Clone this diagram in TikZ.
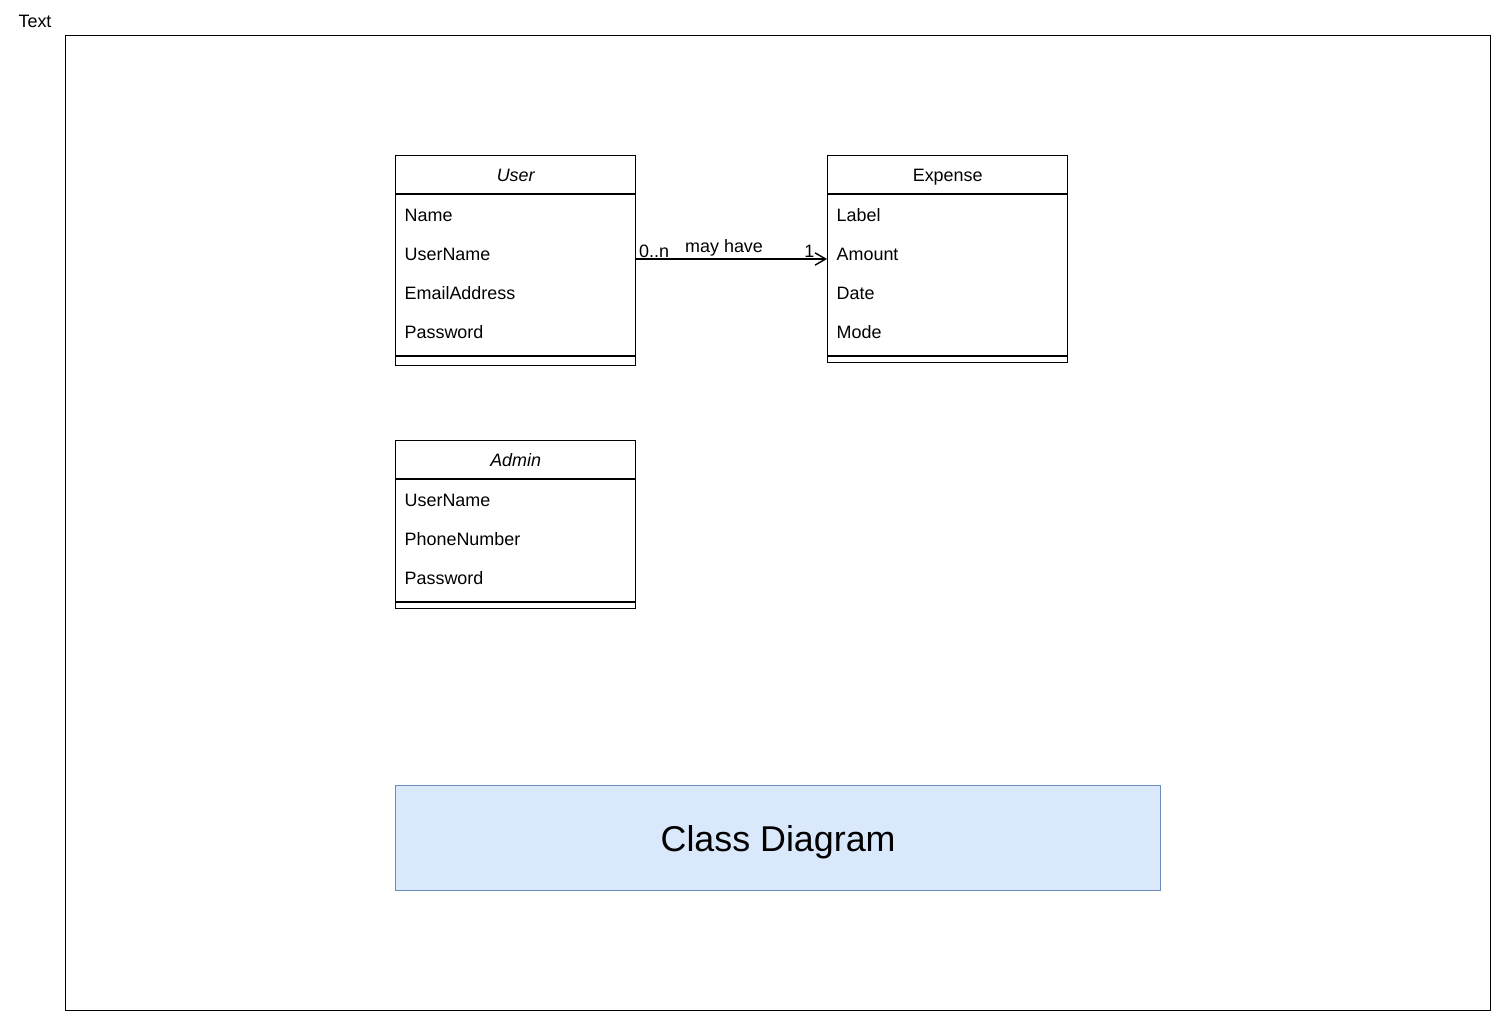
\documentclass[tikz,border=0pt]{standalone}
\usepackage{fontspec}
\setmainfont{Liberation Sans}
\usepackage{tikz}
\usetikzlibrary{arrows.meta,calc}
\definecolor{titlefill}{HTML}{DAE8FC}
\definecolor{titleline}{HTML}{6C8EBF}
\tikzset{
  umlbox/.style={draw, anchor=north west, inner sep=0pt, minimum width=4.8cm},
  attr/.style={anchor=west, inner sep=0pt, text depth=0pt, font=\fontsize{10.2}{12}\selectfont},
  hdr/.style={inner sep=0pt, text depth=0pt, font=\fontsize{10.2}{12}\selectfont},
  lbl/.style={inner sep=0pt, font=\fontsize{10.2}{12}\selectfont},
}

\begin{document}
\begin{tikzpicture}[x=0.02cm, y=-0.02cm, line width=0.8pt]
\useasboundingbox (0,0) rectangle (1496,1016);
\node[lbl] (text) at (35,21) {Text};
\node[draw, anchor=north west, inner sep=0pt, minimum width=28.5cm, minimum height=19.5cm] (frame) at (65,35) {};

\node[umlbox, minimum height=4.2cm] (user) at (395,155) {};
\node[hdr, font=\fontsize{10.2}{12}\selectfont\itshape] (userhead) at ($(user.north)+(0,20)$) {User};
\draw ($(user.north west)+(0,39)$) -- ($(user.north east)+(0,39)$);
\draw ($(user.north west)+(0,201)$) -- ($(user.north east)+(0,201)$);
\foreach \t [count=\i] in {Name,UserName,EmailAddress,Password}
  \node[attr] (user-\i) at ($(user.north west)+(9,21+39*\i)$) {\t};

\node[umlbox, minimum height=4.14cm] (expense) at (827,155) {};
\node[hdr] (expensehead) at ($(expense.north)+(0,20)$) {Expense};
\draw ($(expense.north west)+(0,39)$) -- ($(expense.north east)+(0,39)$);
\draw ($(expense.north west)+(0,201)$) -- ($(expense.north east)+(0,201)$);
\foreach \t [count=\i] in {Label,Amount,Date,Mode}
  \node[attr] (expense-\i) at ($(expense.north west)+(9,21+39*\i)$) {\t};

\node[umlbox, minimum height=3.36cm] (admin) at (395,440) {};
\node[hdr, font=\fontsize{10.2}{12}\selectfont\itshape] (adminhead) at ($(admin.north)+(0,20)$) {Admin};
\draw ($(admin.north west)+(0,39)$) -- ($(admin.north east)+(0,39)$);
\draw ($(admin.north west)+(0,162)$) -- ($(admin.north east)+(0,162)$);
\foreach \t [count=\i] in {UserName,PhoneNumber,Password}
  \node[attr] (admin-\i) at ($(admin.north west)+(9,21+39*\i)$) {\t};

\coordinate (userend) at ($(user.north east)+(0,104)$);
\coordinate (expenseend) at ($(expense.north west)+(0,104)$);
\draw[-{Straight Barb[length=6pt,width=7pt]}] (userend) -- (expenseend)
  node[lbl, pos=0.46, above=1pt] (relname) {may have};
\node[lbl, anchor=south west] (usermult) at ($(userend)+(2,-1)$) {0..n};
\node[lbl, anchor=south east] (expensemult) at ($(expenseend)+(-12,-1)$) {1};

\node[draw=titleline, fill=titlefill, anchor=north west, inner sep=0pt, text depth=0pt,
  minimum width=15.3cm, minimum height=2.1cm, font=\fontsize{20.4}{24}\selectfont]
  (title) at (395,785) {Class Diagram};
\end{tikzpicture}
\end{document}
